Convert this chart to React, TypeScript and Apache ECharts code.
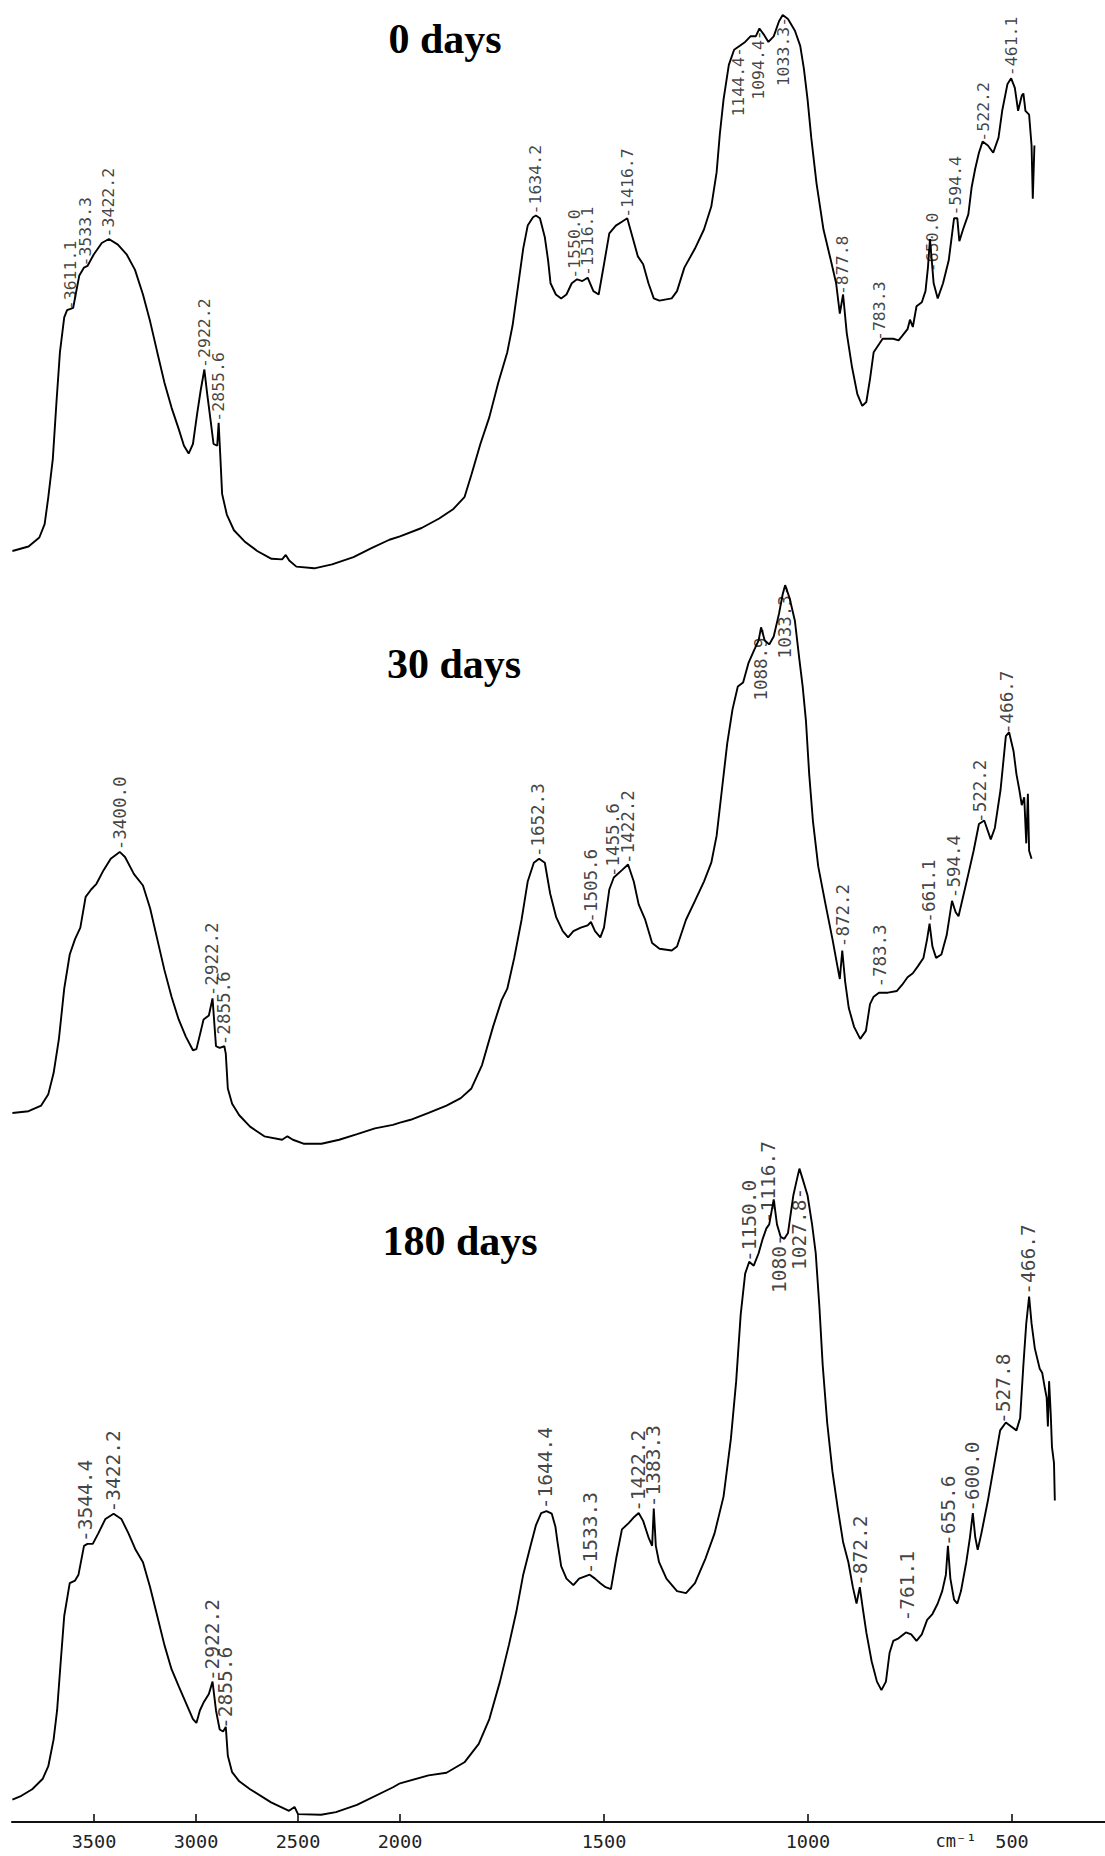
import React, { useEffect, useRef } from "react";
import * as echarts from "echarts";

type Pt = [number, number];
type Peak = [number, number, string];

// ---- titles & ticks ----
const panelTitles = ["0 days", "30 days", "180 days"];
const upperTicks = [2000, 2500, 3000, 3500];
const lowerTicks = [500, 1000, 1500];
const unitLabel = "cm⁻¹";

// ---- spectra: [wavenumber cm-1, relative intensity 0-100] ----
const days0: Pt[] = [
  [3900, 3.4], [3821, 4.2], [3768, 5.8], [3742, 8.2], [3724, 13.0], [3702, 19.8], [3684, 30.0], [3667, 38.9],
  [3646, 45.1], [3632, 46.4], [3602, 46.8], [3590, 49.2], [3572, 52.6], [3549, 54.0], [3532, 54.3], [3502, 56.3],
  [3462, 58.4], [3427, 59.1], [3383, 58.1], [3339, 56.3], [3299, 53.6], [3260, 49.2], [3225, 44.4], [3190, 38.9],
  [3155, 33.5], [3120, 29.0], [3085, 25.2], [3059, 22.2], [3036, 20.8], [3015, 22.5], [2994, 28.0], [2977, 32.1],
  [2959, 35.8], [2945, 31.4], [2928, 26.6], [2914, 22.5], [2896, 22.2], [2889, 26.3], [2882, 21.2], [2872, 13.6],
  [2849, 9.9], [2814, 7.1], [2762, 5.1], [2700, 3.4], [2630, 2.0], [2578, 1.9], [2560, 2.7], [2543, 1.7],
  [2508, 0.6], [2420, 0.3], [2333, 1.0], [2228, 2.3], [2140, 3.9], [2052, 5.4], [2000, 6.0], [1947, 7.5],
  [1904, 9.2], [1869, 10.9], [1842, 13.0], [1825, 17.0], [1803, 22.5], [1781, 27.3], [1759, 33.5], [1737, 38.9],
  [1724, 43.7], [1711, 50.5], [1698, 57.4], [1687, 61.5], [1674, 63.0], [1667, 63.3], [1657, 62.8], [1645, 59.4],
  [1637, 55.3], [1631, 51.2], [1618, 49.2], [1605, 48.5], [1592, 49.2], [1579, 51.2], [1566, 51.9], [1553, 51.6],
  [1540, 52.2], [1526, 49.8], [1513, 49.2], [1500, 54.6], [1487, 60.1], [1471, 61.5], [1456, 62.2], [1443, 62.8],
  [1430, 59.4], [1417, 56.0], [1404, 54.6], [1391, 51.2], [1378, 48.5], [1364, 48.1], [1334, 48.5], [1321, 49.8],
  [1303, 54.0], [1277, 57.4], [1255, 60.8], [1237, 64.9], [1224, 71.0], [1216, 77.9], [1207, 84.0], [1194, 90.2],
  [1181, 92.9], [1167, 93.6], [1154, 94.3], [1141, 95.3], [1128, 95.3], [1119, 96.7], [1109, 95.7], [1097, 94.3],
  [1084, 95.3], [1071, 98.0], [1062, 99.1], [1049, 98.4], [1032, 96.3], [1019, 93.6], [1010, 89.5], [1001, 84.0],
  [992, 77.2], [979, 69.0], [962, 60.8], [944, 55.3], [931, 51.2], [922, 45.8], [914, 49.2], [905, 42.3],
  [892, 36.2], [879, 31.4], [867, 29.3], [857, 30.0], [848, 34.1], [839, 38.9], [826, 40.3], [817, 41.3],
  [791, 41.3], [778, 41.0], [769, 41.8], [756, 43.0], [750, 44.7], [743, 43.4], [734, 47.1], [721, 47.8],
  [712, 49.8], [706, 54.0], [701, 59.1], [692, 51.2], [682, 48.5], [669, 51.2], [655, 55.3], [642, 62.8],
  [634, 62.8], [629, 58.7], [620, 60.8], [607, 63.5], [599, 68.3], [590, 71.7], [581, 74.5], [572, 76.5],
  [559, 75.8], [546, 74.5], [533, 77.2], [524, 82.0], [511, 86.8], [502, 87.8], [493, 86.1], [485, 82.0],
  [476, 84.7], [472, 85.1], [467, 82.0], [458, 81.3], [452, 75.8], [449, 66.3], [445, 75.8],
];

const days30: Pt[] = [
  [3900, 6.5], [3821, 6.8], [3759, 7.8], [3724, 9.8], [3698, 13.5], [3672, 19.5], [3646, 28.3], [3619, 34.3],
  [3593, 37.0], [3567, 39.0], [3541, 44.4], [3514, 45.7], [3488, 46.7], [3453, 49.1], [3418, 51.1], [3374, 52.3],
  [3348, 51.4], [3304, 48.4], [3260, 46.4], [3225, 42.4], [3190, 37.0], [3155, 31.6], [3120, 26.9], [3085, 22.9],
  [3050, 19.9], [3015, 17.5], [2998, 17.7], [2981, 20.2], [2963, 22.9], [2937, 23.6], [2919, 26.6], [2902, 18.2],
  [2884, 17.9], [2861, 18.2], [2854, 16.9], [2844, 10.8], [2823, 8.1], [2788, 6.1], [2735, 4.1], [2665, 2.4],
  [2578, 1.8], [2552, 2.4], [2525, 1.8], [2473, 1.1], [2385, 1.1], [2298, 1.8], [2210, 2.8], [2123, 3.8],
  [2035, 4.4], [2000, 4.8], [1974, 5.3], [1930, 6.5], [1886, 7.8], [1851, 9.1], [1825, 10.8], [1799, 14.9],
  [1772, 21.6], [1751, 26.3], [1737, 28.3], [1720, 33.7], [1702, 40.4], [1687, 47.1], [1672, 50.4], [1659, 51.1],
  [1645, 50.4], [1632, 45.0], [1617, 40.8], [1601, 38.4], [1588, 37.3], [1575, 38.4], [1557, 39.0], [1540, 39.4],
  [1532, 40.0], [1522, 38.4], [1509, 37.3], [1500, 39.0], [1487, 45.7], [1476, 47.8], [1456, 49.1], [1441, 50.1],
  [1427, 47.1], [1415, 43.1], [1399, 40.4], [1382, 36.3], [1364, 35.3], [1334, 35.0], [1321, 35.7], [1299, 40.4],
  [1277, 43.7], [1255, 47.1], [1237, 50.4], [1224, 55.1], [1211, 63.2], [1198, 71.3], [1185, 77.3], [1172, 81.3],
  [1159, 82.0], [1146, 85.4], [1132, 87.7], [1121, 89.4], [1115, 91.7], [1106, 89.4], [1095, 88.7], [1084, 90.1],
  [1071, 94.1], [1062, 97.5], [1056, 99.1], [1045, 96.8], [1032, 92.8], [1021, 86.0], [1013, 81.3], [1005, 75.3],
  [997, 65.9], [988, 57.8], [975, 49.8], [957, 43.1], [940, 37.0], [928, 32.3], [922, 30.0], [916, 35.0],
  [909, 29.6], [900, 24.9], [887, 21.6], [872, 19.5], [858, 20.9], [848, 25.6], [839, 26.9], [826, 27.6],
  [804, 27.6], [782, 27.9], [769, 29.0], [756, 30.3], [743, 31.0], [730, 32.3], [717, 33.7], [708, 37.0],
  [702, 39.7], [695, 35.7], [686, 33.7], [673, 34.3], [660, 37.7], [647, 43.7], [638, 41.7], [631, 41.0],
  [620, 44.4], [607, 48.4], [594, 52.5], [581, 57.2], [568, 57.8], [552, 54.5], [542, 56.5], [528, 63.2],
  [515, 72.6], [507, 73.3], [496, 69.9], [489, 65.9], [482, 63.2], [476, 60.5], [470, 61.9], [465, 53.8],
  [461, 62.5], [458, 52.5], [452, 51.1],
];

const days180: Pt[] = [
  [3900, 3.4], [3856, 4.0], [3803, 5.0], [3751, 6.6], [3724, 8.5], [3698, 12.6], [3681, 17.0], [3663, 24.5],
  [3646, 31.4], [3619, 36.4], [3593, 36.8], [3576, 37.7], [3549, 42.1], [3532, 42.4], [3506, 42.4], [3479, 44.0],
  [3444, 46.2], [3404, 47.0], [3366, 46.2], [3331, 44.0], [3296, 41.5], [3260, 39.6], [3225, 35.8], [3190, 31.4],
  [3155, 27.0], [3120, 23.3], [3085, 20.7], [3050, 18.2], [3015, 15.7], [2998, 15.1], [2981, 17.0], [2963, 18.2],
  [2937, 19.5], [2919, 21.4], [2902, 17.0], [2884, 14.1], [2867, 13.8], [2854, 14.5], [2844, 10.1], [2823, 7.6],
  [2788, 6.2], [2735, 5.0], [2632, 3.0], [2544, 1.7], [2517, 2.3], [2500, 1.2], [2387, 1.1], [2314, 1.5],
  [2211, 2.6], [2034, 5.3], [2000, 5.9], [1930, 7.1], [1886, 7.5], [1842, 9.1], [1807, 11.9], [1781, 15.7],
  [1755, 21.4], [1733, 27.0], [1715, 32.0], [1698, 37.7], [1680, 42.1], [1667, 45.2], [1654, 47.1], [1641, 47.4],
  [1628, 47.0], [1619, 45.0], [1614, 42.7], [1605, 39.0], [1592, 37.1], [1575, 36.1], [1561, 37.1], [1548, 37.4],
  [1535, 37.7], [1522, 37.1], [1509, 36.4], [1496, 35.8], [1483, 35.5], [1470, 40.2], [1456, 44.6], [1439, 45.6],
  [1426, 46.5], [1415, 47.1], [1404, 45.9], [1391, 43.4], [1382, 42.1], [1378, 47.8], [1373, 42.1], [1365, 39.6],
  [1347, 37.1], [1321, 35.2], [1299, 34.9], [1277, 36.4], [1251, 40.2], [1229, 44.0], [1207, 49.6], [1189, 58.4],
  [1176, 67.2], [1165, 77.3], [1154, 83.6], [1144, 85.4], [1133, 84.8], [1121, 86.7], [1111, 88.9], [1102, 90.5],
  [1095, 91.1], [1084, 94.9], [1076, 91.1], [1067, 89.2], [1058, 88.9], [1049, 89.8], [1036, 95.5], [1027, 98.0],
  [1021, 99.6], [1013, 98.0], [1001, 95.5], [990, 91.1], [981, 86.7], [972, 78.5], [964, 69.7], [953, 60.9],
  [940, 53.4], [927, 47.8], [914, 42.7], [901, 39.6], [890, 35.8], [881, 33.3], [873, 35.8], [866, 32.7],
  [857, 28.9], [844, 24.5], [831, 21.4], [820, 20.1], [809, 21.4], [800, 25.8], [791, 27.6], [778, 28.0],
  [760, 28.9], [747, 28.6], [734, 27.6], [721, 28.6], [708, 30.8], [695, 31.7], [682, 33.3], [671, 35.2],
  [662, 37.7], [657, 42.1], [651, 37.1], [642, 33.9], [634, 33.3], [625, 35.2], [612, 39.6], [603, 43.4],
  [596, 47.1], [590, 43.4], [584, 41.5], [575, 44.0], [559, 49.0], [543, 54.7], [529, 59.7], [515, 60.9],
  [502, 60.3], [489, 59.7], [480, 61.6], [472, 69.7], [465, 76.0], [458, 80.1], [452, 76.0], [444, 72.2],
  [432, 69.1], [426, 68.5], [419, 66.0], [415, 64.7], [412, 60.3], [409, 67.2], [405, 62.2], [402, 57.2],
  [397, 54.7], [395, 49.0],
];

// ---- peak annotations: [wavenumber, intensity, label] ----
const days0PeaksAbove: Peak[] = [
  [3611, 46.3, "3611.1"], [3537, 54.1, "3533.3"], [3427, 59.3, "3422.2"], [2956, 36.0, "2922.2"],
  [2886, 26.4, "2855.6"], [1667, 63.4, "1634.2"], [1571, 51.9, "1550.0"], [1540, 52.4, "1516.1"],
  [1441, 62.8, "1416.7"], [914, 49.0, "877.8"], [823, 40.8, "783.3"], [694, 53.1, "650.0"],
  [638, 63.2, "594.4"], [568, 76.4, "522.2"], [501, 88.1, "461.1"],
];
const days0PeaksBelow: Peak[] = [
  [1170, 93.3, "1144.4"], [1119, 96.3, "1094.4"], [1060, 98.7, "1033.3"],
];
const days30PeaksAbove: Peak[] = [
  [3371, 52.5, "3400.0"], [2917, 26.9, "2922.2"], [2861, 18.3, "2855.6"], [1661, 51.3, "1652.3"],
  [1531, 39.8, "1505.6"], [1476, 47.8, "1455.6"], [1439, 50.1, "1422.2"], [914, 35.5, "872.2"],
  [822, 28.4, "783.3"], [702, 39.8, "661.1"], [642, 44.1, "594.4"], [577, 57.3, "522.2"],
  [511, 72.9, "466.7"],
];
const days30PeaksBelow: Peak[] = [
  [1113, 91.7, "1088.9"], [1056, 99.1, "1033.3"],
];
const days180PeaksAbove: Peak[] = [
  [3541, 42.6, "3544.4"], [3404, 47.1, "3422.2"], [2919, 21.4, "2922.2"], [2854, 14.1, "2855.6"],
  [1641, 47.6, "1644.4"], [1533, 37.7, "1533.3"], [1415, 47.2, "1422.2"], [1378, 47.9, "1383.3"],
  [1141, 85.3, "1150.0"], [1095, 91.2, "1116.7"], [871, 35.9, "872.2"], [756, 30.5, "761.1"],
  [655, 42.0, "655.6"], [596, 47.2, "600.0"], [520, 60.6, "527.8"], [458, 80.3, "466.7"],
];
const days180PeaksBelow: Peak[] = [
  [1069, 89.5, "1080"], [1019, 96.6, "1027.8"],
];

const spectra = [days0, days30, days180];
const peaksAbove = [days0PeaksAbove, days30PeaksAbove, days180PeaksAbove];
const peaksBelow = [days0PeaksBelow, days30PeaksBelow, days180PeaksBelow];

// ---- layout ----
const W = 1105;
const H = 1856;
const BREAK = 2000;
const UPPER_MAX = 3902;
const LOWER_MIN = 272;
const LEFT_X = 12;
const SPLIT_X = 400;
const panelBoxes = [
  { top: 10, height: 560 },
  { top: 580, height: 570 },
  { top: 1166, height: 656 },
];
const titlePos = [
  [445, 39],
  [454, 664],
  [460, 1241],
];
const labelFontSizes = [16.5, 17.5, 19.5];
const MONO = "DejaVu Sans Mono";
const INK = "#000";

function buildOption(): any {
  const grid: any[] = [];
  const xAxis: any[] = [];
  const yAxis: any[] = [];
  const series: any[] = [];

  panelBoxes.forEach((box, p) => {
    const isBottom = p === panelBoxes.length - 1;
    [0, 1].forEach((side) => {
      const idx = p * 2 + side;
      const upper = side === 0;
      grid.push({
        left: upper ? LEFT_X : SPLIT_X,
        width: upper ? SPLIT_X - LEFT_X : W - SPLIT_X,
        top: box.top,
        height: box.height,
      });
      const ticks = upper ? upperTicks : lowerTicks;
      xAxis.push({
        type: "value",
        gridIndex: idx,
        inverse: true,
        min: upper ? BREAK : LOWER_MIN,
        max: upper ? UPPER_MAX : BREAK,
        show: isBottom,
        splitLine: { show: false },
        axisLine: { show: isBottom, onZero: false, lineStyle: { color: "#111", width: 2.2 } },
        axisTick: {
          show: isBottom,
          inside: true,
          length: 8,
          customValues: ticks,
          lineStyle: { color: "#111", width: 1.6 },
        },
        axisLabel: {
          show: isBottom,
          customValues: ticks,
          formatter: (v: number) => String(v),
          fontFamily: MONO,
          fontSize: 18.5,
          color: "#222",
          margin: 10,
        },
      });
      yAxis.push({ type: "value", gridIndex: idx, min: 0, max: 100, show: false });

      const spec = spectra[p].filter((d) => (upper ? d[0] >= BREAK : d[0] <= BREAK));
      series.push({
        type: "line",
        xAxisIndex: idx,
        yAxisIndex: idx,
        data: spec,
        showSymbol: false,
        symbol: "none",
        silent: true,
        clip: false,
        lineStyle: { color: INK, width: 1.9 },
      });

      const inSide = (pk: Peak) => (upper ? pk[0] >= BREAK : pk[0] < BREAK);
      const labelData = [
        ...peaksAbove[p].filter(inSide).map((pk) => ({
          value: [pk[0], pk[1]],
          label: { align: "left", formatter: "-" + pk[2] },
        })),
        ...peaksBelow[p].filter(inSide).map((pk) => ({
          value: [pk[0], pk[1]],
          label: { align: "right", formatter: pk[2] + "-" },
        })),
      ];
      series.push({
        type: "scatter",
        xAxisIndex: idx,
        yAxisIndex: idx,
        data: labelData,
        symbolSize: 1,
        silent: true,
        clip: false,
        itemStyle: { color: "rgba(0,0,0,0)" },
        label: {
          show: true,
          rotate: 90,
          position: [0, 0],
          verticalAlign: "middle",
          fontFamily: MONO,
          fontSize: labelFontSizes[p],
          color: "#111",
        },
      });
    });
  });

  const graphic: any[] = panelTitles.map((t, i) => ({
    type: "text",
    x: titlePos[i][0],
    y: titlePos[i][1],
    silent: true,
    style: {
      text: t,
      fontFamily: "Liberation Serif",
      fontWeight: "bold",
      fontSize: 42,
      fill: "#000",
      align: "center",
      verticalAlign: "middle",
    },
  }));
  graphic.push({
    type: "text",
    x: 956,
    y: 1841,
    silent: true,
    style: {
      text: unitLabel,
      fontFamily: MONO,
      fontSize: 17,
      fill: "#222",
      align: "center",
      verticalAlign: "middle",
    },
  });

  return {
    animation: false,
    backgroundColor: "#ffffff",
    grid,
    xAxis,
    yAxis,
    series,
    graphic,
  };
}

export default function App() {
  const ref = useRef<HTMLDivElement>(null);
  useEffect(() => {
    document.body.style.margin = "0";
    if (!ref.current) return;
    const chart = echarts.init(ref.current, undefined, { renderer: "svg" });
    chart.setOption(buildOption());
    return () => chart.dispose();
  }, []);
  return (
    <div
      ref={ref}
      style={{ position: "absolute", left: 0, top: 0, width: W, height: H, background: "#fff" }}
    />
  );
}
